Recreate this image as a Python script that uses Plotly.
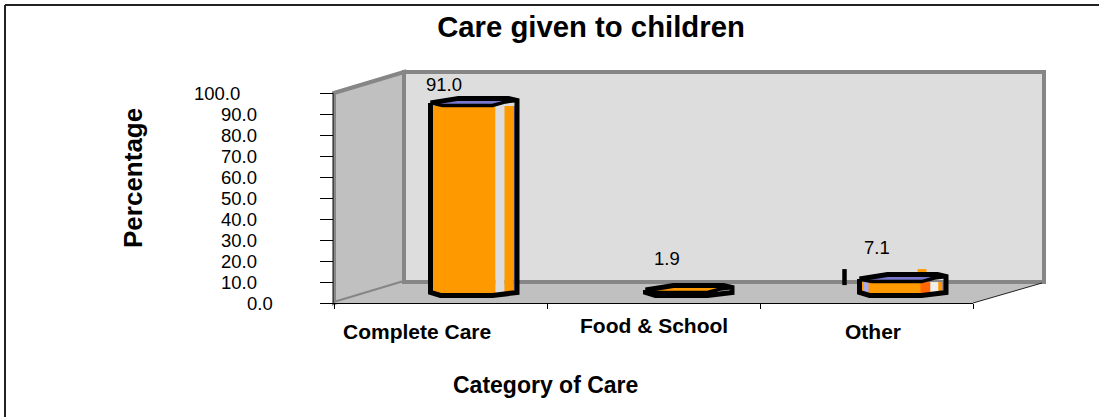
import plotly.graph_objects as go

categories = ["Complete Care", "Food & School", "Other"]
values = [91.0, 1.9, 7.1]
value_labels = ["91.0", "1.9", "7.1"]
y_ticks = [0, 10, 20, 30, 40, 50, 60, 70, 80, 90, 100]
y_tick_labels = ["0.0", "10.0", "20.0", "30.0", "40.0", "50.0", "60.0", "70.0", "80.0", "90.0", "100.0"]
x_boundaries = [-0.5, 0.5, 1.5, 2.5]

W, H = 1099, 417
L, R, T, B = 334, 973, 93, 303
UX = (R - L) / 3.0
UY = (B - T) / 100.0
FONT = "Liberation Sans"


def px(x):
    return (x - L) / (R - L)


def py(y):
    return (B - y) / (B - T)


def poly(points, fill=None, line=None, width=0):
    d = "M" + " L".join(f"{px(a):.5f},{py(b):.5f}" for a, b in points) + " Z"
    return dict(type="path", xref="paper", yref="paper", path=d, fillcolor=fill or "rgba(0,0,0,0)",
                line=dict(color=line or "rgba(0,0,0,0)", width=width), layer="below")


BASE = 6 / UY               # depth of the bar on the floor
LEFTS = [-10.0, -8.0, -7.0]  # left edge of each outline from its category centre, px
TOP_COLOURS = ["#7777CC", "#FF9900", "#7777CC"]
x_pos = [0, 1, 2]


def dx(p):
    return p / UX


def dy(p):
    return p / UY


fig = go.Figure()


def stripe(start, width, colour, idx=(0, 1, 2)):
    # the foot of each facet stays inside the chamfered bottom of the outline
    fig.add_trace(go.Bar(
        x=[x_pos[i] for i in idx], y=[values[i] - dy(3) for i in idx], base=BASE + dy(3),
        width=dx(width), offset=[dx(LEFTS[i] + start) for i in idx],
        marker=dict(color=colour, line=dict(width=0)), hoverinfo="skip", showlegend=False))


stripe(0, 65, "#FF9900")
stripe(65, 9, "#DDDDDD")
stripe(74, 9, "#FF9900")
stripe(83, 3.5, "#7777CC")
# the last bar has its own facets
stripe(61, 10, "#FF6600", idx=(2,))
stripe(71, 8, "#EEEEEE", idx=(2,))
stripe(79, 4, "#FF9900", idx=(2,))
stripe(83, 3.5, "#7777CC", idx=(2,))
stripe(4, 5, "#AAAAEE", idx=(2,))

# stray marks beside the last bar
fig.add_trace(go.Scatter(
    x=[2 + dx(-22), 2 + dx(-22)], y=[values[2] + BASE + dy(13), values[2] + BASE - dy(3)], mode="lines",
    line=dict(color="black", width=4.5), cliponaxis=False, hoverinfo="skip", showlegend=False))
fig.add_trace(go.Scatter(
    x=[2 + dx(51), 2 + dx(60)], y=[values[2] + BASE + dy(11.5), values[2] + BASE + dy(11.5)], mode="lines",
    line=dict(color="#FF9900", width=3), cliponaxis=False, hoverinfo="skip", showlegend=False))

for i, v in enumerate(values):
    top = v + BASE
    left = LEFTS[i]
    # top face
    xs = [left + a for a in (2, 30, 80, 85, 62, 12, 2)]
    ys = [-3, -7, -7, -5, -1, -1, -3]
    fig.add_trace(go.Scatter(
        x=[i + dx(a) for a in xs], y=[top - dy(b) for b in ys], mode="lines", fill="toself",
        fillcolor=TOP_COLOURS[i], line=dict(color="rgba(0,0,0,0)", width=0), cliponaxis=False,
        hoverinfo="skip", showlegend=False))
    # outline
    ox = [0, 28, 78, 86.5, 86.5, 62, 10, 0, 0]
    oy = [-3, -7.5, -7.5, -5.5, None, None, None, None, -3]
    yy = []
    for b, pxoff in zip(oy, [0, 0, 0, 0, 4.5, 1.5, 1.5, 4.5, 0]):
        yy.append(top - dy(b) if b is not None else BASE + dy(pxoff))
    fig.add_trace(go.Scatter(
        x=[i + dx(left + a) for a in ox], y=yy, mode="lines",
        line=dict(color="black", width=5), cliponaxis=False, hoverinfo="skip", showlegend=False))
    # lower rim of top face
    fig.add_trace(go.Scatter(
        x=[i + dx(left + a) for a in (0, 12, 62, 75, 86.5)],
        y=[top - dy(b) for b in (-3, -0.5, -0.5, -4, -5.5)], mode="lines",
        line=dict(color="black", width=3.5), cliponaxis=False, hoverinfo="skip", showlegend=False))

shapes = [
    poly([(334, 93), (404, 72), (404, 282), (334, 303)], "#C0C0C0", "#868686", 4),
    poly([(334, 303), (404, 282), (1045, 282), (973, 303)], "#C0C0C0"),
    poly([(404, 72), (1044, 72), (1044, 282), (404, 282)], "#DDDDDD", "#868686", 4),
    dict(type="line", xref="paper", yref="paper", x0=px(973), x1=px(1042), y0=py(303), y1=py(283),
         line=dict(color="#222222", width=1), layer="below"),
    dict(type="line", xref="paper", yref="paper", x0=px(5), x1=px(1099), y0=py(5), y1=py(5),
         line=dict(color="#222222", width=2), layer="below"),
    dict(type="line", xref="paper", yref="paper", x0=px(5), x1=px(5), y0=py(5), y1=py(417),
         line=dict(color="#222222", width=2), layer="below"),
]

ann = []
for t, s in zip(y_ticks, y_tick_labels):
    right = 275 if t == 0 else (242 if t == 100 else 259)
    ann.append(dict(x=px(right), xref="paper", y=t, yref="y", text=s, showarrow=False, xanchor="right",
                    yanchor="middle", xshift=0, font=dict(family=FONT, size=18.5, color="black")))

label_dx = [-24, 0, 6]
label_y = [331, 325, 331]
for i, c in enumerate(categories):
    ann.append(dict(x=i, xref="x", y=py(label_y[i]), yref="paper", text=f"<b>{c}</b>", showarrow=False,
                    xanchor="center", xshift=label_dx[i], yanchor="middle",
                    font=dict(family=FONT, size=21, color="black")))

val_dx = [3, 13, 10]
val_dy = [21, 35, 35]
for i, s in enumerate(value_labels):
    ann.append(dict(x=i, xref="x", y=values[i] + BASE, yref="y", text=s, showarrow=False, xanchor="center",
                    xshift=val_dx[i], yshift=val_dy[i], yanchor="middle",
                    font=dict(family=FONT, size=18.5, color="black")))

ann.append(dict(x=px(545), xref="paper", y=py(385), yref="paper", text="<b>Category of Care</b>", showarrow=False,
                xanchor="center", yanchor="middle", font=dict(family=FONT, size=23, color="black")))
ann.append(dict(x=px(133), xref="paper", y=py(178), yref="paper", text="<b>Percentage</b>", showarrow=False,
                xanchor="center", textangle=-90, yanchor="middle", font=dict(family=FONT, size=26, color="black")))

fig.update_layout(
    width=W, height=H, margin=dict(l=L, r=W - R, t=T, b=H - B), autosize=False,
    paper_bgcolor="white", plot_bgcolor="white", barmode="overlay", showlegend=False,
    title=dict(text="<b>Care given to children</b>", x=591 / W, xanchor="center", y=1 - 27 / H,
               yanchor="middle", font=dict(family=FONT, size=29.3, color="black")),
    xaxis=dict(range=[-0.5, 2.5], tickvals=x_boundaries, showticklabels=False, ticks="outside", ticklen=5,
               tickcolor="black", showline=True, linecolor="black", linewidth=1, showgrid=False, zeroline=False),
    yaxis=dict(range=[0, 100], tickvals=y_ticks, showticklabels=False, ticks="outside", ticklen=13,
               tickcolor="black", showline=True, linecolor="#444444", linewidth=1, showgrid=False, zeroline=False),
    shapes=shapes, annotations=ann,
)
fig.write_html("out.html", config={"displayModeBar": False},
               post_script="document.body.style.margin='0';document.documentElement.style.overflow='hidden';")
